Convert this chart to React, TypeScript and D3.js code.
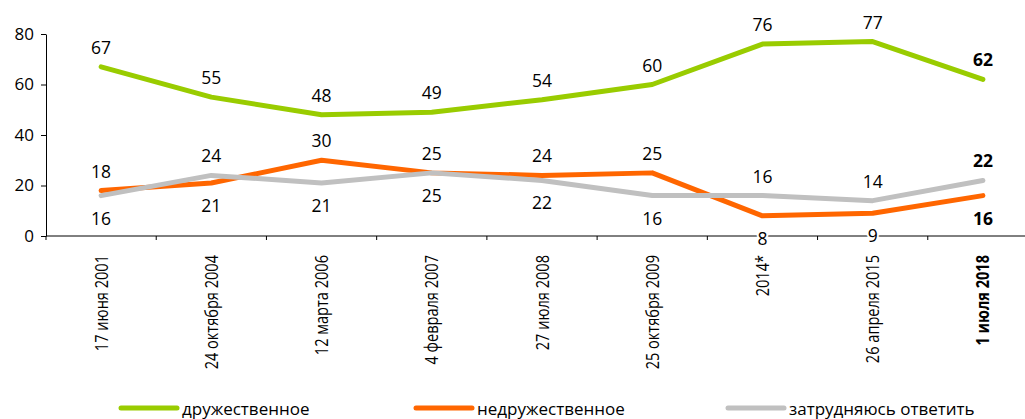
import React, { useRef, useEffect } from 'react';
import * as d3 from 'd3';

const categories = [
  '17 июня 2001',
  '24 октября 2004',
  '12 марта 2006',
  '4 февраля 2007',
  '27 июля 2008',
  '25 октября 2009',
  '2014*',
  '26 апреля 2015',
  '1 июля 2018',
];
const friendly = [67, 55, 48, 49, 54, 60, 76, 77, 62];
const unfriendly = [18, 21, 30, 25, 24, 25, 8, 9, 16];
const undecided = [16, 24, 21, 25, 22, 16, 16, 14, 22];
const yTicks = [0, 20, 40, 60, 80];

const seriesList = [
  { name: 'дружественное', values: friendly, color: '#99CC00' },
  { name: 'недружественное', values: unfriendly, color: '#FF6600' },
  { name: 'затрудняюсь ответить', values: undecided, color: '#C0C0C0' },
];

const W = 1025;
const H = 419;
const FONT = '"Open Sans", "Noto Sans", sans-serif';

export default function App() {
  const yAxisRef = useRef<SVGGElement>(null);

  const x = d3.scaleBand<string>().domain(categories).range([46, 1038]);
  const y = d3.scaleLinear().domain([0, 80]).range([236, 34]);
  const cx = (i: number) => (x(categories[i]) as number) + x.bandwidth() / 2;
  const last = categories.length - 1;

  useEffect(() => {
    // y axis drawn with d3
    const g = d3.select(yAxisRef.current);
    g.call(d3.axisLeft(y).tickValues(yTicks).tickSize(5).tickSizeOuter(0).tickPadding(7));
    g.selectAll('text').attr('font-size', 17).attr('font-family', FONT).attr('fill', '#000');
    g.selectAll('line, path').attr('stroke', '#000');
  }, []);

  const line = d3
    .line<number>()
    .x((_, i) => cx(i))
    .y((v) => y(v));

  // labels: friendly always above; the other two — higher above, lower below
  const labels: { x: number; y: number; text: string; bold: boolean }[] = [];
  categories.forEach((_, i) => {
    const bold = i === last;
    labels.push({ x: cx(i), y: y(friendly[i]) - 20, text: String(friendly[i]), bold });
    const uAbove = unfriendly[i] >= undecided[i];
    labels.push({
      x: cx(i),
      y: uAbove ? y(unfriendly[i]) - 20 : y(unfriendly[i]) + 22,
      text: String(unfriendly[i]),
      bold,
    });
    labels.push({
      x: cx(i),
      y: uAbove ? y(undecided[i]) + 22 : y(undecided[i]) - 20,
      text: String(undecided[i]),
      bold,
    });
  });

  const legendX = [121, 416, 728];

  return (
    <div style={{ position: 'fixed', left: 0, top: 0 }}>
      <svg width={W} height={H} style={{ display: 'block', background: '#fff' }}>
        <g ref={yAxisRef} transform="translate(46,0)" />

        {/* x axis */}
        <line x1={46} x2={1038} y1={y(0)} y2={y(0)} stroke="#000" strokeWidth={1} />
        {categories.map((c) => (
          <line
            key={'t' + c}
            x1={x(c) as number}
            x2={x(c) as number}
            y1={y(0)}
            y2={y(0) + 4}
            stroke="#000"
          />
        ))}

        {seriesList.map((s) => (
          <path
            key={s.name}
            d={line(s.values) as string}
            fill="none"
            stroke={s.color}
            strokeWidth={5}
            strokeLinejoin="round"
            strokeLinecap="round"
          />
        ))}

        {labels.map((l, i) => (
          <text
            key={'l' + i}
            x={l.x}
            y={l.y}
            textAnchor="middle"
            dominantBaseline="central"
            fontFamily={FONT}
            fontSize={17.5}
            fontWeight={l.bold ? 'bold' : 'normal'}
            fill="#000"
            stroke="#fff"
            strokeWidth={4}
            paintOrder="stroke"
          >
            {l.text}
          </text>
        ))}

        {categories.map((c, i) => (
          <text
            key={'x' + c}
            transform={`translate(${cx(i)},255) rotate(-90) scale(0.81,1)`}
            textAnchor="end"
            dominantBaseline="central"
            fontFamily={FONT}
            fontSize={18}
            fontWeight={i === last ? 'bold' : 'normal'}
            fill="#000"
          >
            {c}
          </text>
        ))}

        {seriesList.map((s, i) => (
          <g key={'lg' + s.name} transform={`translate(${legendX[i]},408)`}>
            <line x1={0} x2={56} y1={0} y2={0} stroke={s.color} strokeWidth={5} strokeLinecap="round" />
            <text x={61} y={0} dominantBaseline="central" fontFamily={FONT} fontSize={17} fill="#000">
              {s.name}
            </text>
          </g>
        ))}
      </svg>
    </div>
  );
}
